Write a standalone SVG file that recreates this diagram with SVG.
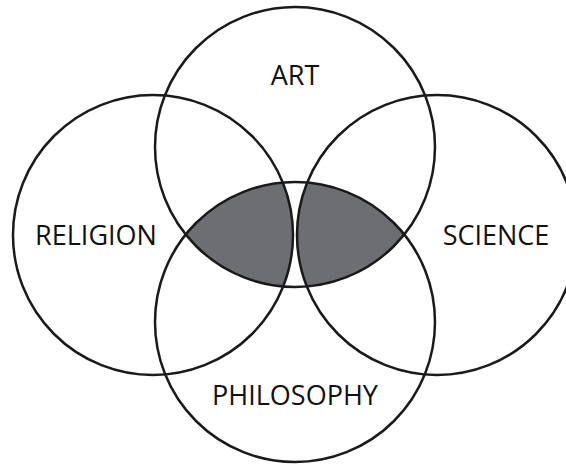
<svg xmlns="http://www.w3.org/2000/svg" width="566" height="466" viewBox="0 0 566 466">
<style>
.c{fill:none;stroke:#1a1a1a;stroke-width:2.5}
.s{fill:#6d6e71;stroke:none}
.t{font-family:"Open Sans","Noto Sans","Liberation Sans",sans-serif;font-size:27px;fill:#111;text-anchor:middle}
</style>
<rect width="566" height="466" fill="#fff"/>
<g id="shaded">
<path class="s" d="M185.7 234.5 A140 140 0 0 1 282.8 182.5 A140 140 0 0 1 283.2 286.5 A140 140 0 0 1 185.7 234.5 Z"/>
<path class="s" d="M307.2 182.5 A140 140 0 0 1 404.3 234.5 A140 140 0 0 1 306.8 286.5 A140 140 0 0 1 307.2 182.5 Z"/>
</g>
<g id="art"><circle class="c" cx="295" cy="147" r="140"/><text class="t" x="295" y="85">ART</text></g>
<g id="religion"><circle class="c" cx="153" cy="235" r="140"/><text class="t" x="96" y="245">RELIGION</text></g>
<g id="science"><circle class="c" cx="437" cy="235" r="140"/><text class="t" x="496" y="245">SCIENCE</text></g>
<g id="philosophy"><circle class="c" cx="295" cy="322" r="140"/><text class="t" x="295" y="405">PHILOSOPHY</text></g>
<g id="connectors"/>
</svg>
